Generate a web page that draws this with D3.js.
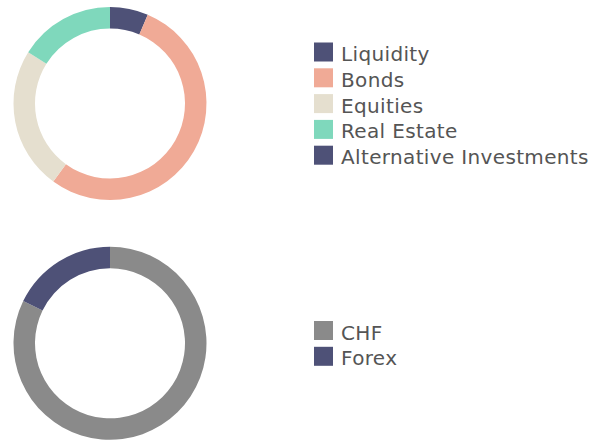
<!DOCTYPE html>
<html>
<head>
<meta charset="utf-8">
<script src="https://cdn.jsdelivr.net/npm/d3@7"></script>
<style>
  body { margin: 0; background: #fff; }
  svg text { font-family: "DejaVu Sans", sans-serif; fill: #555; letter-spacing: 0.35px; }
</style>
</head>
<body>
<div id="chart"></div>
<script>
const allocLabels = ["Liquidity", "Bonds", "Equities", "Real Estate", "Alternative Investments"];
const allocValues = [6.4, 53.6, 23.9, 16.1, 0];
const allocColors = ["#4e5177", "#f0aa96", "#e5dfcf", "#7fd8bc", "#4e5177"];

const currencyLabels = ["CHF", "Forex"];
const currencyValues = [82.2, 17.8];
const currencyColors = ["#8a8a8a", "#4e5177"];

const width = 606, height = 441;
const outerR = 96.5, innerR = 75;

const svg = d3.select("#chart")
  .append("svg")
  .attr("width", width)
  .attr("height", height);

const pie = d3.pie().sort(null).value(d => d.value);
const arc = d3.arc().innerRadius(innerR).outerRadius(outerR);

function donut(labels, values, colors, cy, legendTop) {
  const data = labels.map((l, i) => ({ label: l, value: values[i], color: colors[i] }));

  const g = svg.append("g").attr("transform", `translate(110,${cy})`);
  g.selectAll("path")
    .data(pie(data))
    .enter().append("path")
    .attr("d", arc)
    .attr("fill", d => d.data.color);

  const y = d3.scaleBand().domain(labels).range([legendTop, legendTop + labels.length * 25.8]);

  const legend = svg.append("g");
  legend.selectAll("rect")
    .data(data)
    .enter().append("rect")
    .attr("x", 314)
    .attr("y", d => y(d.label))
    .attr("width", 19)
    .attr("height", 19)
    .attr("fill", d => d.color);

  legend.selectAll("text")
    .data(data)
    .enter().append("text")
    .attr("x", 341)
    .attr("y", d => y(d.label) + 18.5)
    .style("font-size", "20px")
    .text(d => d.label);
}

donut(allocLabels, allocValues, allocColors, 103.5, 42.5);
donut(currencyLabels, currencyValues, currencyColors, 343.3, 321);
</script>
</body>
</html>
